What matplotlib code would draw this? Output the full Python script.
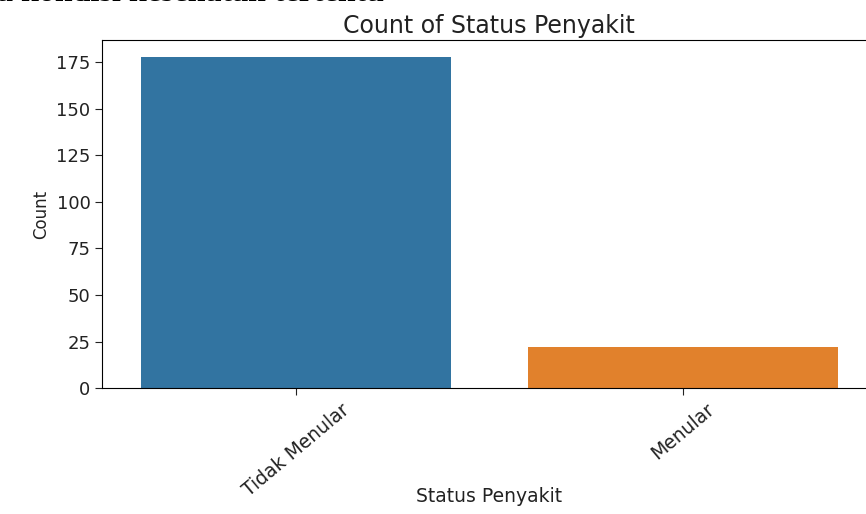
import matplotlib
matplotlib.use("Agg")
import matplotlib.pyplot as plt

categories = ["Tidak Menular", "Menular"]
counts = [178, 22]
bar_colors = ["#3274a1", "#e1812c"]

fig = plt.figure(figsize=(8.66, 5.14), dpi=100)
ax = fig.add_axes([0.118, 0.245, 0.894, 0.677])

ax.bar(range(len(categories)), counts, width=0.8, color=bar_colors)
ax.set_xlim(-0.5, len(categories) - 0.5)
ax.set_ylim(0, max(counts) * 1.05)
ax.set_xticks(range(len(categories)), labels=categories, rotation=40)
ax.set_yticks(range(0, 176, 25))
ax.tick_params(axis="y", labelsize=13, colors="#222222", length=5)
ax.tick_params(axis="x", labelsize=13.5, colors="#222222", length=5)
ax.set_xlabel("Status Penyakit", fontsize=13.5, color="#222222", va="center")
ax.xaxis.set_label_coords(0.5, -0.312)
ax.set_ylabel("Count", fontsize=12, color="#222222")
ax.set_title("Count of Status Penyakit", fontsize=17, color="#222222", pad=5)

# clipped caption line from the surrounding document
fig.text(-0.004, 1 - 1 / 514, "a kondisi kesehatan tertentu", family="Liberation Serif",
         fontweight="bold", fontsize=23, va="baseline", ha="left")

fig.savefig("out.png", dpi=100)
